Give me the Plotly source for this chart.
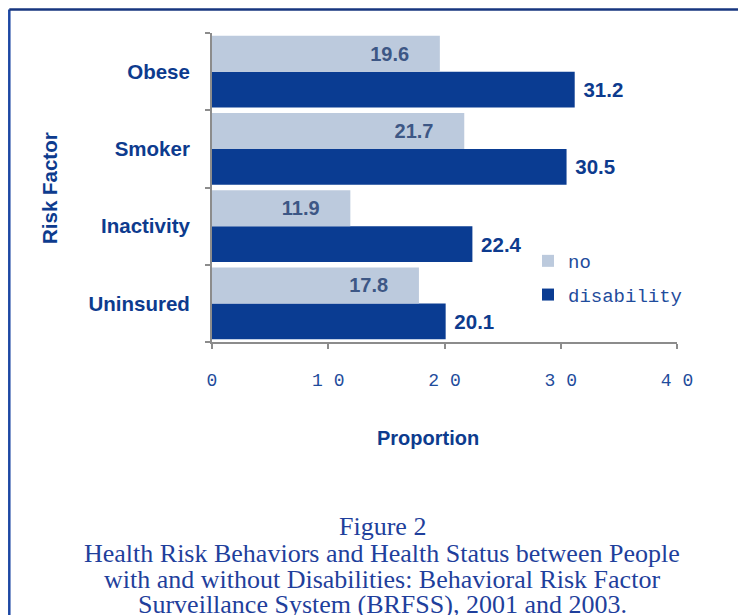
import plotly.graph_objects as go

categories = ["Obese", "Smoker", "Inactivity", "Uninsured"]
no_disability = [19.6, 21.7, 11.9, 17.8]
disability = [31.2, 30.5, 22.4, 20.1]
x_ticks = [0, 10, 20, 30, 40]
x_ticktext = ["0", "1 0", "2 0", "3 0", "4 0"]

BOLD = "Liberation Sans, Arial, sans-serif"
MONO = "Courier New, Liberation Mono, monospace"
SERIF = "Liberation Serif, Times New Roman, serif"
BLUE = "#0d3b8e"
TXT = "#1f4c9c"

OFF = 8  # page body margin
W, H = 746 - OFF, 615 - OFF
# plot area in screenshot pixels
SL, SR, ST, SB = 212, 677, 33, 342
L, R, T, B = SL - OFF, SR - OFF, ST - OFF, SB - OFF


def px(xs):
    return (xs - SL) / (SR - SL)


def py(ys):
    return (SB - ys) / (SB - ST)


fig = go.Figure()
fig.add_trace(go.Bar(
    y=categories, x=disability, orientation="h", name="disability",
    marker=dict(color="#0a3c92", line=dict(width=0)),
    text=disability, texttemplate="\u00a0%{x}", textposition="outside",
    textfont=dict(family=BOLD, size=20.5, color=BLUE, weight="bold"),
    cliponaxis=False, legendgroup="b", legendrank=2,
))
fig.add_trace(go.Bar(
    y=categories, x=no_disability, orientation="h", name="no",
    marker=dict(color="#bccadd", line=dict(width=0)),
    text=no_disability, texttemplate="%{x}\u00a0\u00a0\u00a0\u00a0\u00a0",
    textposition="inside", insidetextanchor="end",
    textfont=dict(family=BOLD, size=20, color="#3d5785", weight="bold"),
    legendgroup="a", legendrank=1,
))

fig.update_layout(
    width=W, height=H,
    margin=dict(l=L, r=W - R, t=T, b=H - B, pad=0),
    paper_bgcolor="white", plot_bgcolor="white",
    barmode="group", bargap=0.07, bargroupgap=0,
    showlegend=True,
    legend=dict(
        x=px(528), y=py(242), xanchor="left", yanchor="top",
        traceorder="grouped", tracegroupgap=6,
        font=dict(family=MONO, size=19, color=TXT),
        bgcolor="rgba(0,0,0,0)",
    ),
    xaxis=dict(
        range=[0, 40], tickvals=x_ticks, ticktext=x_ticktext,
        showgrid=False, zeroline=False, showline=True, linecolor="#8c8c8c", linewidth=2,
        ticks="outside", ticklen=5, tickcolor="#8c8c8c", tickwidth=2,
        ticklabelstandoff=15,
        tickfont=dict(family=MONO, size=18, color=TXT),
    ),
    yaxis=dict(
        categoryorder="array", categoryarray=categories[::-1],
        range=[-0.5, 3.5],
        showgrid=False, zeroline=False, showline=True, linecolor="#8c8c8c", linewidth=2,
        ticks="outside", tickson="boundaries", ticklen=5, tickcolor="#8c8c8c", tickwidth=2,
        ticklabelstandoff=16,
        tickfont=dict(family=BOLD, size=20.5, color=BLUE, weight="bold"),
    ),
)

CAP = "#1f3f9c"
annotations = [
    dict(text="Risk Factor", x=px(50), y=py(188), textangle=-90,
         font=dict(family=BOLD, size=20.5, color=BLUE, weight="bold")),
    dict(text="Proportion", x=px(428), y=py(438),
         font=dict(family=BOLD, size=20, color=BLUE, weight="bold")),
    dict(text="Figure 2", x=px(382), y=py(526),
         font=dict(family=SERIF, size=26, color=CAP)),
    dict(text="Health Risk Behaviors and Health Status between People", x=px(382), y=py(553),
         font=dict(family=SERIF, size=26, color=CAP)),
    dict(text="with and without Disabilities: Behavioral Risk Factor", x=px(382), y=py(579),
         font=dict(family=SERIF, size=26, color=CAP)),
    dict(text="Surveillance System (BRFSS), 2001 and 2003.", x=px(382), y=py(604),
         font=dict(family=SERIF, size=26, color=CAP)),
]
for a in annotations:
    a.update(xref="paper", yref="paper", showarrow=False, xanchor="center", yanchor="middle")
fig.update_layout(annotations=annotations)

BX = OFF + 1.3  # left border, screenshot px (as close to the edge as the page allows)
fig.update_layout(shapes=[
    dict(type="line", xref="paper", yref="paper", x0=px(BX), x1=px(BX), y0=py(700), y1=py(9.5),
         line=dict(color="#1c47a3", width=2.5)),
    dict(type="line", xref="paper", yref="paper", x0=px(BX), x1=px(800), y0=py(9.5), y1=py(9.5),
         line=dict(color="#17367f", width=2.5)),
])

fig.write_html("out.html")
